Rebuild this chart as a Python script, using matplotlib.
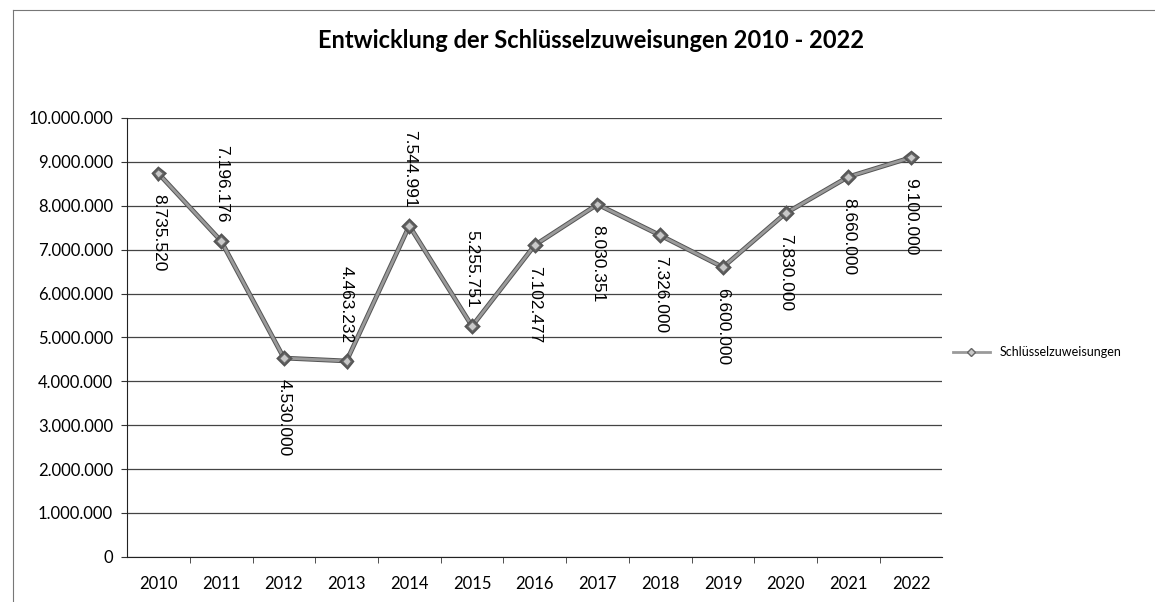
import matplotlib.pyplot as plt
from matplotlib.lines import Line2D
import matplotlib.patheffects as pe

# Schluesselzuweisungen per year
years = ['2010', '2011', '2012', '2013', '2014', '2015', '2016',
         '2017', '2018', '2019', '2020', '2021', '2022']
values = [8735520, 7196176, 4530000, 4463232, 7544991, 5255751, 7102477,
          8030351, 7326000, 6600000, 7830000, 8660000, 9100000]
labels = ['8.735.520', '7.196.176', '4.530.000', '4.463.232', '7.544.991',
          '5.255.751', '7.102.477', '8.030.351', '7.326.000', '6.600.000',
          '7.830.000', '8.660.000', '9.100.000']
label_side = ['below', 'above', 'below', 'above', 'above', 'above', 'below',
              'below', 'below', 'below', 'below', 'below', 'below']
y_ticks = [0, 1000000, 2000000, 3000000, 4000000, 5000000, 6000000,
           7000000, 8000000, 9000000, 10000000]

fig = plt.figure(figsize=(11.55, 6.02), dpi=100)
ax = fig.add_axes([0.110, 0.075, 0.706, 0.729])

x = list(range(len(years)))
line, = ax.plot(x, values, color='#9a9a9a', lw=2.0, marker='D', ms=5,
                markerfacecolor='#c8c8c8', markeredgecolor='#666666',
                path_effects=[pe.withStroke(linewidth=3.4, foreground='#555555')])

for xi, v, lab, side in zip(x, values, labels, label_side):
    if side == 'below':
        ax.annotate(lab, (xi, v), xytext=(0, -15), textcoords='offset points',
                    rotation=270, ha='center', va='top', fontsize=12.5,
                    family='Liberation Sans')
    else:
        ax.annotate(lab, (xi, v), xytext=(0, 13), textcoords='offset points',
                    rotation=270, ha='center', va='bottom', fontsize=12.5,
                    family='Liberation Sans')

ax.set_xlim(-0.5, len(years) - 0.5)
ax.set_ylim(0, 10000000)
ax.set_yticks(y_ticks)
ax.set_yticklabels([f'{t:,}'.replace(',', '.') for t in y_ticks],
                   family='Lato', fontsize=12)
ax.set_xticks(x)
ax.set_xticklabels(years, family='Lato', fontsize=12)
ax.set_xticks([i + 0.5 for i in x[:-1]], minor=True)
ax.tick_params(axis='x', which='major', length=0, pad=14)
ax.tick_params(axis='x', which='minor', length=4, color='#333')
ax.tick_params(axis='y', length=4, color='#333', pad=6)

ax.grid(axis='y', color='#444444', lw=0.9)
ax.set_axisbelow(True)
for s in ['top', 'right']:
    ax.spines[s].set_visible(False)
ax.spines['left'].set_color('#222')
ax.spines['bottom'].set_color('#222')

fig.text(0.512, 0.932, 'Entwicklung der Schlüsselzuweisungen 2010 - 2022',
         ha='center', va='center', fontsize=17, fontweight='bold', family='Lato')

handle = Line2D([], [], color='#9a9a9a', lw=2, marker='D', ms=4,
                markerfacecolor='#c8c8c8', markeredgecolor='#666666')
fig.legend([handle], ['Schlüsselzuweisungen'], loc='center left',
           bbox_to_anchor=(0.815, 0.415), frameon=False, handlelength=3,
           prop={'family': 'Lato', 'size': 9})

# scanned page frame
fig.add_artist(Line2D([0.011, 0.011], [0, 0.983], color='#777', lw=0.8,
                      transform=fig.transFigure))
fig.add_artist(Line2D([0.011, 1.0], [0.983, 0.983], color='#777', lw=0.8,
                      transform=fig.transFigure))

fig.savefig('out.png', dpi=100)
